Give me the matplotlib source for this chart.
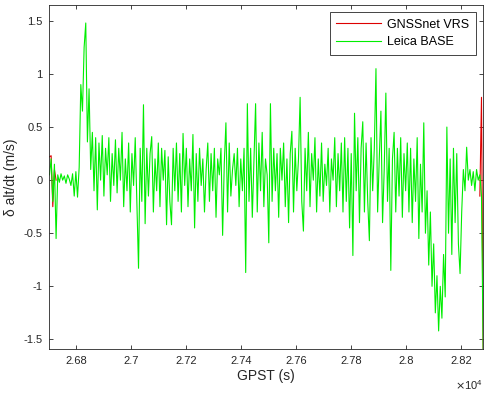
import numpy as np
import matplotlib
matplotlib.use('Agg')
import matplotlib.pyplot as plt
from matplotlib.ticker import FuncFormatter

plt.rcParams['font.family'] = ['Liberation Sans', 'DejaVu Sans']
plt.rcParams['axes.unicode_minus'] = False

# sampling of the GPST axis (s)
t_start = 26703
t_step = 6

# Leica BASE vertical velocity difference (m/s)
leica = [
    0.05, 0.2, -0.2, 0.15, -0.55,
    0.05, -0.02, 0.06, 0.0, 0.04, -0.03, 0.05, 0.01, -0.05, 0.06, -0.15, 0.08, -0.16, 0.12,
    0.9, 0.65, 1.25, 1.48, 0.36, 0.86, 0.1,
    0.45, -0.1, 0.4, -0.28, 0.35, 0.0, 0.42, -0.15, 0.3, 0.05, 0.4, -0.2, 0.25, -0.05, 0.38,
    -0.12, 0.3, 0.0, 0.45, -0.25, 0.2, -0.1, 0.35, -0.3, 0.25, -0.05, 0.4, -0.2, -0.83, 0.3,
    -0.2, 0.71, -0.41, 0.3, -0.15, 0.25, 0.41, -0.3, 0.2, -0.1, 0.35, -0.25, 0.3, 0.0, 0.28,
    -0.42, 0.22, -0.2, -0.42, 0.3, -0.1, 0.35, -0.2, 0.25, -0.3, 0.44, -0.05, 0.3, -0.25, 0.2,
    -0.1, 0.43, -0.45, 0.25, -0.2, 0.3, -0.05, 0.2, -0.3, 0.1, 0.35, -0.2, 0.25, -0.1, 0.3,
    -0.35, 0.2, 0.05, 0.3, -0.52, 0.15, 0.54, -0.3, 0.35, -0.15, 0.1, 0.25, -0.05, 0.3, -0.25, 0.2,
    -0.1, 0.3, -0.87, 0.72, -0.2, 0.3, -0.35, 0.2, 0.72, -0.3, 0.35, -0.1, 0.45, -0.25, 0.2,
    0.05, -0.59, 0.72, -0.2, 0.3, -0.1, 0.25, -0.35, 0.3, 0.0, 0.35, -0.25, 0.2, -0.4, 0.25,
    0.46, -0.3, 0.3, -0.1, 0.2, 0.78, -0.2, -0.48, 0.3, -0.1, 0.45, -0.25, 0.25, 0.0, 0.4,
    -0.3, 0.2, -0.15, 0.35, -0.2, 0.15, -0.05, 0.3, -0.3, 0.2, 0.0, 0.4, -0.25, 0.25, -0.1,
    0.35, -0.3, 0.4, -0.2, 0.3, -0.45, 0.25, -0.71, 0.63, -0.1, 0.4, -0.4, 0.3, 0.55, -0.3,
    0.35, -0.2, -0.57, 0.4, -0.1, 0.3, 1.05, -0.3, 0.2, 0.65, -0.4, 0.1, 0.82, -0.2, 0.3,
    -0.85, 0.2, 0.45, -0.3, 0.3, -0.15, 0.4, -0.35, 0.25, -0.1, 0.35, -0.3,
    0.3, -0.4, 0.2, -0.2, 0.4, -0.55, 0.15, -0.3, 0.54, -0.5, -0.1, -0.8, -0.3, -1.0, -0.6,
    -1.25, -0.9, -1.42, -1.0, -1.3, -0.7, -1.1, 0.5, -0.5, 0.2, -0.7, 0.3, -0.4, 0.25, -0.6, -0.88,
    -0.3, 0.1, -0.1, 0.31, 0.0, 0.1, -0.05, 0.08, -0.1, 0.1, 0.0, 0.05, -0.15, -1.59,
]

# GNSSnet VRS lies under the Leica curve, only its two ends can be read
vrs_start = [0.22, 0.23, -0.25, 0.1, 0.0]
vrs_end = [-0.15, 0.78, -1.59]

t = t_start + t_step * np.arange(len(leica))

fig = plt.figure(figsize=(4.9, 3.95), dpi=100)
ax = fig.add_axes([0.101, 0.1165, 0.885, 0.871])

ax.plot(t[:len(vrs_start)], vrs_start, color='#dd0000', lw=0.8, label='GNSSnet VRS')
ax.plot(t[-len(vrs_end):], vrs_end, color='#dd0000', lw=0.8)
ax.plot(t, leica, color='#00ee00', lw=0.8, label='Leica BASE')

ax.set_xlim(t[0], t[-1])
ax.set_ylim(-1.59, 1.65)
ax.set_xticks(np.arange(26800, 28201, 200))
ax.set_yticks(np.arange(-1.5, 1.51, 0.5))
ax.xaxis.set_major_formatter(FuncFormatter(lambda v, p: '%g' % round(v / 1e4, 2)))
ax.yaxis.set_major_formatter(FuncFormatter(lambda v, p: '%g' % round(v, 1)))
ax.tick_params(direction='in', length=3, width=0.6, top=True, right=True,
               labelsize=8, colors='#262626', pad=5)
for s in ax.spines.values():
    s.set_linewidth(0.6)
    s.set_color('#262626')

ax.set_xlabel('GPST (s)', fontsize=10, color='#262626', labelpad=2)
ax.set_ylabel('δ alt/dt (m/s)', fontsize=10, color='#262626', labelpad=4)
fig.text(0.986, 0.013, r'$\times\mathregular{10^4}$', ha='right', va='baseline',
         fontsize=8, color='#262626')

leg = ax.legend(loc='upper right', fontsize=9, fancybox=False, framealpha=1,
                edgecolor='#262626', borderaxespad=0.6, handlelength=3.6,
                handletextpad=0.5, borderpad=0.5, labelspacing=0.45)
leg.get_frame().set_linewidth(0.6)

plt.savefig('out.png', dpi=100)
